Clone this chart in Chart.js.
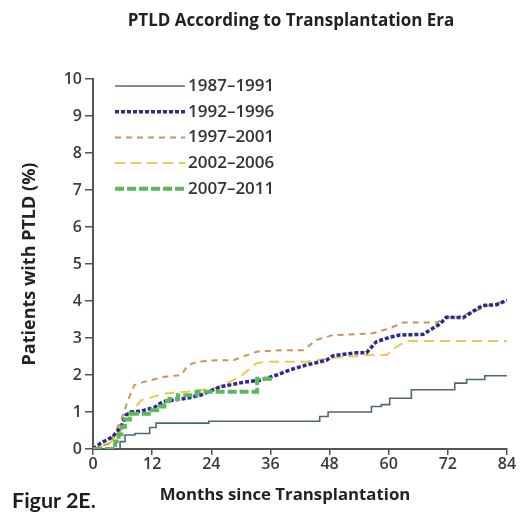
<!DOCTYPE html>
<html>
<head>
<meta charset="utf-8">
<script src="https://cdn.jsdelivr.net/npm/chart.js@4.4.1/dist/chart.umd.min.js"></script>
<style>
  body { margin:0; background:#fff; }
  #wrap { position:relative; width:529px; height:516px; font-family:"Open Sans", sans-serif; }
  #title { position:absolute; left:0; width:582px; top:8px; text-align:center; font-weight:700; font-size:17px; color:#222; }
  #xtitle { position:absolute; left:0; width:570px; top:482px; text-align:center; font-weight:700; font-size:16.8px; color:#222; }
  #fig { position:absolute; left:12px; top:490px; line-height:20px; font-family:Lato, sans-serif; font-weight:700; font-size:21.5px; color:#1e1e1e; }
</style>
</head>
<body>
<div id="wrap">
  <canvas id="chart" width="529" height="516"></canvas>
  <div id="title">PTLD According to Transplantation Era</div>
  <div id="xtitle">Months since Transplantation</div>
  <div id="fig">Figur 2E.</div>
</div>
<script>
/* PTLD cumulative incidence by transplantation era */

const xTicks = [0, 12, 24, 36, 48, 60, 72, 84];
const yTicks = [0, 1, 2, 3, 4, 5, 6, 7, 8, 9, 10];

// 1987–1991
const era1Months = [0, 5.5, 6.5, 8.5, 11.5, 12.8, 23.5, 46, 47.7, 56.5, 58.5, 60.2, 64.6, 73.4, 75.8, 79.5, 84];
const era1Values = [0, 0.2, 0.38, 0.42, 0.58, 0.7, 0.75, 0.88, 1.0, 1.15, 1.2, 1.37, 1.6, 1.78, 1.88, 1.98, 1.98];
// 1992–1996
const era2Months = [0, 1.6, 4, 5.7, 6.7, 7.7, 9.7, 12.5, 14.2, 19.3, 21.9, 25.8, 30.4, 33.9, 37.3, 40, 43.3, 47.4, 48.7, 53.5, 55.5, 57.5, 60.2, 62.3, 67, 70.4, 71.7, 75.1, 77.1, 79.1, 81.9, 84];
const era2Values = [0, 0.16, 0.33, 0.6, 0.92, 1.0, 1.02, 1.13, 1.28, 1.38, 1.46, 1.68, 1.8, 1.86, 2.0, 2.14, 2.27, 2.4, 2.52, 2.6, 2.6, 2.9, 3.02, 3.08, 3.1, 3.38, 3.56, 3.55, 3.72, 3.88, 3.9, 4.02];
// 1997–2001
const era3Months = [0, 3.4, 5.7, 7.1, 8.4, 10.5, 14.5, 17.9, 19.3, 21.3, 25, 28.5, 33.2, 38, 42.6, 45.4, 48.7, 53.5, 56.8, 60.2, 62.9, 69.7, 71.7, 74, 77, 80, 84];
const era3Values = [0, 0.16, 0.78, 1.32, 1.73, 1.82, 1.95, 2.0, 2.27, 2.36, 2.4, 2.4, 2.63, 2.67, 2.67, 2.95, 3.08, 3.1, 3.13, 3.26, 3.42, 3.42, 3.56, 3.56, 3.7, 3.87, 4.0];
// 2002–2006
const era4Months = [0, 3, 5.7, 8.4, 9.8, 14.5, 19.3, 25, 29.8, 33.2, 35.2, 43.3, 48, 52, 56.8, 59.6, 61, 63.7, 84];
const era4Values = [0, 0.1, 0.5, 1.1, 1.32, 1.5, 1.55, 1.65, 1.95, 2.32, 2.36, 2.36, 2.45, 2.5, 2.54, 2.54, 2.72, 2.92, 2.92];
// 2007–2011
const era5Months = [0, 4.5, 5.2, 5.8, 6.5, 7.5, 12, 13.5, 14.5, 15.5, 17.2, 21, 33.3, 35.9];
const era5Values = [0, 0.2, 0.4, 0.6, 0.8, 0.95, 1.05, 1.15, 1.3, 1.35, 1.45, 1.55, 1.9, 1.95];

const pts = (xs, ys) => xs.map((x, i) => ({ x, y: ys[i] }));

const datasets = [
  { label:'1987\u20131991', data:pts(era1Months, era1Values), borderColor:'#4c6876', borderWidth:1.6, borderDash:[], stepped:true, order:4 },
  { label:'1992\u20131996', data:pts(era2Months, era2Values), borderColor:'#2d2a8c', borderWidth:3.5, borderDash:[4,2], order:1 },
  { label:'1997\u20132001', data:pts(era3Months, era3Values), borderColor:'#c8955a', borderWidth:2, borderDash:[6,5], order:2 },
  { label:'2002\u20132006', data:pts(era4Months, era4Values), borderColor:'#f0c650', borderWidth:2, borderDash:[10,6], order:3 },
  { label:'2007\u20132011', data:pts(era5Months, era5Values), borderColor:'#5cb85c', borderWidth:4, borderDash:[9,3], stepped:true, order:0 },
].map(d => ({ ...d, pointRadius:0, fill:false, tension:0, borderCapStyle:'butt' }));

// legend drawn inside plot, line samples use each dataset's own style
const eraLegend = {
  id:'eraLegend',
  afterDatasetsDraw(chart){
    const { ctx, chartArea } = chart;
    chart.data.datasets.forEach((ds, i) => {
      const y = chartArea.top + 7 + i * 25.7;
      ctx.save();
      ctx.strokeStyle = ds.borderColor;
      ctx.lineWidth = ds.borderWidth;
      ctx.setLineDash(ds.borderDash || []);
      ctx.beginPath();
      ctx.moveTo(chartArea.left + 22, y);
      ctx.lineTo(chartArea.left + 92, y);
      ctx.stroke();
      ctx.setLineDash([]);
      ctx.fillStyle = '#333';
      ctx.font = '600 17px "Open Sans"';
      ctx.textBaseline = 'middle';
      ctx.fillText(ds.label, chartArea.left + 95, y);
      ctx.restore();
    });
  }
};

const axisCommon = {
  type:'linear',
  grid:{ display:true, drawOnChartArea:false, drawTicks:true, color:'#555', lineWidth:1.5 },
  border:{ display:true, color:'#555', width:2 },
};
const tickFont = { family:'Open Sans', size:16, weight:600 };

new Chart(document.getElementById('chart'), {
  type:'line',
  data:{ datasets },
  plugins:[eraLegend],
  options:{
    responsive:false,
    animation:false,
    layout:{ padding:{ top:79, right:22, left:0, bottom:0 } },
    plugins:{ legend:{ display:false }, tooltip:{ enabled:false }, title:{ display:false } },
    scales:{
      x:{
        ...axisCommon,
        min:xTicks[0], max:xTicks[xTicks.length-1],
        afterBuildTicks: s => { s.ticks = xTicks.map(v => ({ value:v })); },
        grid:{ ...axisCommon.grid, tickLength:6 },
        ticks:{ color:'#3a3a3a', font:tickFont, padding:0, maxRotation:0 },
        afterFit: s => { s.height = 67; }
      },
      y:{
        ...axisCommon,
        min:yTicks[0], max:yTicks[yTicks.length-1],
        afterBuildTicks: s => { s.ticks = yTicks.map(v => ({ value:v })); },
        grid:{ ...axisCommon.grid, tickLength:8 },
        ticks:{ color:'#3a3a3a', font:tickFont, padding:3 },
        title:{ display:true, text:'Patients with PTLD (%)', color:'#222',
                font:{ family:'Open Sans', size:18, weight:'bold' }, padding:{ top:19, bottom:0 } },
        afterFit: s => { s.width = 93; }
      }
    }
  }
});
</script>
</body>
</html>
